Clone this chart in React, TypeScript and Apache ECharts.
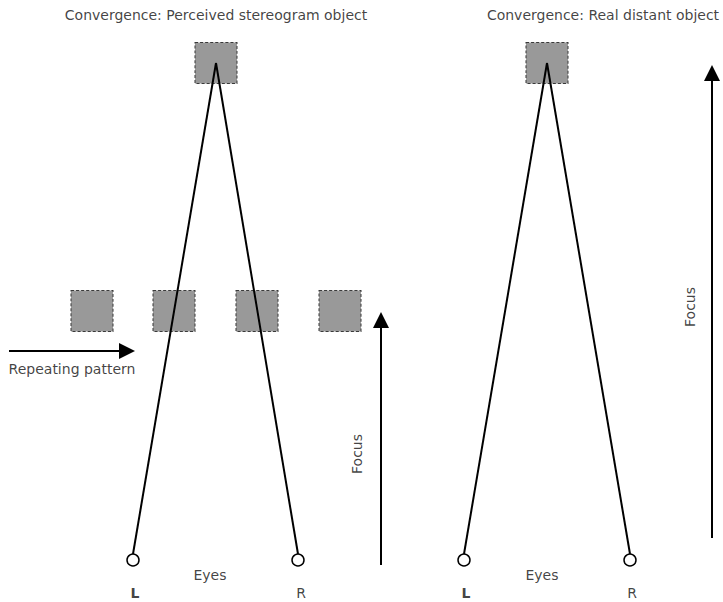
import React, { useEffect, useRef } from "react";
import * as echarts from "echarts";

// Diagram coordinates (pixel-like units, y grows downward)
const patternSquares: number[][] = [[92, 311], [174, 311], [257, 311], [340, 311]];
const targetSquares: number[][] = [[216, 63], [547, 63]];
const eyes: number[][] = [[133, 560], [298, 560], [464, 560], [630, 560]];
const sightLines: number[][][] = [
  [[133, 554], [216, 63]],
  [[298, 554], [216, 63]],
  [[464, 554], [547, 63]],
  [[630, 554], [547, 63]],
];
const arrows: number[][][] = [
  [[9, 351], [127, 351]],
  [[381, 565], [381, 320]],
  [[712, 538], [712, 73]],
];
const titles: (string | number)[][] = [
  [216, 15, "Convergence: Perceived stereogram object"],
  [603, 15, "Convergence: Real distant object"],
];
const plainLabels: (string | number)[][] = [
  [72, 369, "Repeating pattern"],
  [210, 575, "Eyes"],
  [542, 575, "Eyes"],
  [301, 593, "R"],
  [632, 593, "R"],
];
const boldLabels: (string | number)[][] = [
  [135, 593, "L"],
  [466, 593, "L"],
];
const rotatedLabels: (string | number)[][] = [
  [357, 454, "Focus"],
  [690, 307, "Focus"],
];

const FONT = "'DejaVu Sans', sans-serif";
const INK = "#111111";

export default function App() {
  const ref = useRef<HTMLDivElement>(null);
  useEffect(() => {
    if (!ref.current) return;
    const chart = echarts.init(ref.current, undefined, { renderer: "svg" });
    const textSeries = (data: (string | number)[][], extra: any) => ({
      type: "scatter",
      data: data.map((d) => ({ value: [d[0], d[1]], name: d[2] })),
      symbolSize: 0,
      silent: true,
      z: 5,
      itemStyle: { color: INK },
      label: {
        show: true,
        position: [0, 0],
        align: "center",
        verticalAlign: "middle",
        formatter: "{b}",
        color: INK,
        textBorderColor: INK,
        textBorderWidth: 0,
        textShadowBlur: 0,
        fontFamily: FONT,
        fontSize: 14,
        ...extra,
      },
    });
    chart.setOption({
      animation: false,
      grid: { left: 0, right: 0, top: 0, bottom: 0, containLabel: false },
      xAxis: { type: "value", min: 0, max: 723, show: false },
      yAxis: { type: "value", min: 0, max: 602, inverse: true, show: false },
      series: [
        {
          type: "scatter",
          data: [...patternSquares, ...targetSquares],
          symbol: "rect",
          symbolSize: [42, 41],
          silent: true,
          z: 1,
          itemStyle: {
            color: "#999999",
            borderColor: "#3a3a3a",
            borderWidth: 1,
            borderType: [3, 2],
            opacity: 1,
          },
        },
        {
          type: "lines",
          coordinateSystem: "cartesian2d",
          data: sightLines.map((c) => ({ coords: c })),
          symbol: ["none", "none"],
          silent: true,
          z: 3,
          lineStyle: { color: "#000", width: 2, opacity: 1 },
        },
        {
          type: "lines",
          coordinateSystem: "cartesian2d",
          data: arrows.map((c) => ({ coords: c })),
          symbol: ["none", "path://M0,0 L5,16 L-5,16 Z"],
          symbolSize: 16,
          silent: true,
          z: 3,
          lineStyle: { color: "#000", width: 2, opacity: 1 },
          itemStyle: { color: "#000" },
        },
        {
          type: "scatter",
          data: eyes,
          symbol: "circle",
          symbolSize: 12,
          silent: true,
          z: 4,
          itemStyle: { color: "#fff", borderColor: "#000", borderWidth: 1.5, opacity: 1 },
        },
        textSeries(titles, {}),
        textSeries(plainLabels, {}),
        textSeries(boldLabels, { fontWeight: "bold" }),
        textSeries(rotatedLabels, { rotate: 90 }),
      ],
    });
    return () => chart.dispose();
  }, []);
  return (
    <div
      ref={ref}
      style={{ position: "fixed", left: 0, top: 0, width: 723, height: 602, background: "#fff" }}
    />
  );
}
